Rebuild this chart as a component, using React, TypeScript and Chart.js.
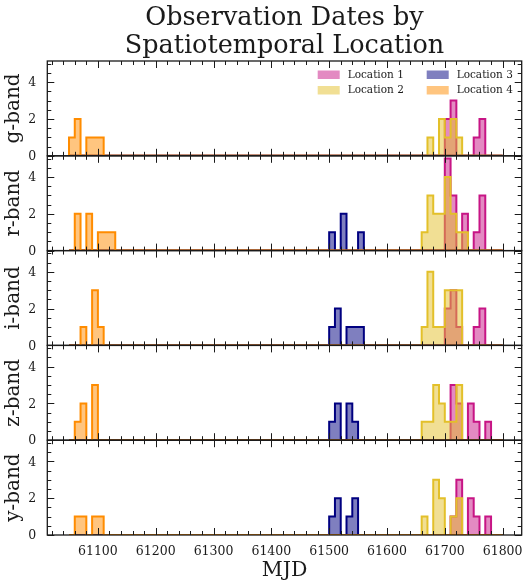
import React, { useEffect, useRef } from 'react';
import { Chart, registerables } from 'chart.js';

Chart.register(...registerables);

const TITLE_LINES = ['Observation Dates by', 'Spatiotemporal Location'];
const X_TITLE = 'MJD';
const BANDS = ['g-band', 'r-band', 'i-band', 'z-band', 'y-band'];
const BAND_IDS = ['yg', 'yr', 'yi', 'yz', 'yy'];
const LOCATIONS = ['Location 1', 'Location 2', 'Location 3', 'Location 4'];
const EDGE_COLORS = ['rgb(199,21,133)', 'rgb(227,192,42)', 'rgb(0,0,128)', 'rgb(255,140,0)'];
const FILL_COLORS = ['rgba(199,21,133,0.5)', 'rgba(227,192,42,0.5)', 'rgba(0,0,128,0.5)', 'rgba(255,140,0,0.5)'];

const BIN_START = 61050;
const BIN_WIDTH = 10;
const N_BINS = 75;

const X_MIN = 61012.5;
const X_MAX = 61833;
const X_TICKS = [61100, 61200, 61300, 61400, 61500, 61600, 61700, 61800];
const X_MINOR_STEP = 20;
const Y_MAX = 5.15;
const Y_TICKS = [0, 2, 4];
const Y_MINOR_STEP = 0.5;

// Non-empty bins, as [bin start (MJD), count]
const G_LOC1 = [[61700, 2], [61710, 3], [61750, 1], [61760, 2]];
const G_LOC2 = [[61670, 1], [61690, 2], [61700, 1], [61710, 2], [61720, 1]];
const G_LOC3: number[][] = [];
const G_LOC4 = [[61050, 1], [61060, 2], [61080, 1], [61090, 1], [61100, 1]];

const R_LOC1 = [[61700, 5], [61710, 3], [61730, 2], [61750, 1], [61760, 3]];
const R_LOC2 = [[61660, 1], [61670, 3], [61680, 2], [61690, 2], [61700, 4], [61710, 2], [61720, 1], [61730, 1]];
const R_LOC3 = [[61500, 1], [61520, 2], [61550, 1]];
const R_LOC4 = [[61060, 2], [61080, 2], [61100, 1], [61110, 1], [61120, 1]];

const I_LOC1 = [[61700, 2], [61710, 3], [61720, 1], [61750, 1], [61760, 2]];
const I_LOC2 = [[61660, 1], [61670, 4], [61680, 1], [61690, 1], [61700, 3], [61710, 3], [61720, 3]];
const I_LOC3 = [[61500, 1], [61510, 2], [61530, 1], [61540, 1], [61550, 1]];
const I_LOC4 = [[61070, 1], [61090, 3], [61100, 1]];

const Z_LOC1 = [[61710, 3], [61720, 2], [61740, 2], [61750, 1], [61770, 1]];
const Z_LOC2 = [[61660, 1], [61670, 1], [61680, 3], [61690, 2], [61700, 1], [61710, 1], [61720, 3]];
const Z_LOC3 = [[61500, 1], [61510, 2], [61530, 2], [61540, 1]];
const Z_LOC4 = [[61060, 1], [61070, 2], [61090, 3]];

const Y_LOC1 = [[61710, 1], [61720, 3], [61740, 2], [61750, 1], [61770, 1]];
const Y_LOC2 = [[61660, 1], [61680, 3], [61690, 2], [61710, 1], [61720, 2]];
const Y_LOC3 = [[61500, 1], [61510, 2], [61530, 1], [61540, 2]];
const Y_LOC4 = [[61060, 1], [61070, 1], [61090, 1], [61100, 1]];

const BAND_DATA = [
  [G_LOC1, G_LOC2, G_LOC3, G_LOC4],
  [R_LOC1, R_LOC2, R_LOC3, R_LOC4],
  [I_LOC1, I_LOC2, I_LOC3, I_LOC4],
  [Z_LOC1, Z_LOC2, Z_LOC3, Z_LOC4],
  [Y_LOC1, Y_LOC2, Y_LOC3, Y_LOC4],
];

const FONT = "'DejaVu Serif', serif";
const INK = '#1a1a1a';
const MAJOR_LEN = 7;
const MINOR_LEN = 4;

function histPoints(bins: number[][]) {
  const counts = new Array(N_BINS).fill(0);
  bins.forEach(([start, c]) => {
    counts[Math.round((start - BIN_START) / BIN_WIDTH)] = c;
  });
  const pts = [{ x: BIN_START, y: 0 }];
  counts.forEach((c, k) => pts.push({ x: BIN_START + k * BIN_WIDTH, y: c }));
  pts.push({ x: BIN_START + N_BINS * BIN_WIDTH, y: 0 });
  return pts;
}

const decorPlugin = {
  id: 'decor',
  afterDraw(chart: any) {
    const { ctx, chartArea } = chart;
    const xs = chart.scales.x;
    const left = chartArea.left;
    const right = chartArea.right;
    ctx.save();
    ctx.strokeStyle = INK;
    BAND_IDS.forEach((id) => {
      const ys = chart.scales[id];
      const top = ys.top;
      const bottom = ys.bottom;
      ctx.lineWidth = 1;
      ctx.beginPath();
      for (let v = Math.ceil(X_MIN / X_MINOR_STEP) * X_MINOR_STEP; v <= X_MAX; v += X_MINOR_STEP) {
        const px = Math.round(xs.getPixelForValue(v)) + 0.5;
        const len = X_TICKS.includes(v) ? MAJOR_LEN : MINOR_LEN;
        ctx.moveTo(px, bottom);
        ctx.lineTo(px, bottom - len);
        ctx.moveTo(px, top);
        ctx.lineTo(px, top + len);
      }
      for (let v = 0; v <= Y_MAX + 1e-9; v += Y_MINOR_STEP) {
        const py = Math.round(ys.getPixelForValue(v)) + 0.5;
        const len = Y_TICKS.includes(v) ? MAJOR_LEN : MINOR_LEN;
        ctx.moveTo(left, py);
        ctx.lineTo(left + len, py);
        ctx.moveTo(right, py);
        ctx.lineTo(right - len, py);
      }
      ctx.stroke();
      ctx.lineWidth = 1.3;
      ctx.strokeRect(left, top, right - left, bottom - top);
    });

    // legend inside the top panel (two columns)
    const yg = chart.scales.yg;
    ctx.font = `10.5px ${FONT}`;
    ctx.textBaseline = 'middle';
    ctx.textAlign = 'left';
    LOCATIONS.forEach((name, i) => {
      const col = Math.floor(i / 2);
      const row = i % 2;
      const px = right - 204 + col * 109;
      const cy = yg.top + 13.5 + row * 15.5;
      ctx.fillStyle = FILL_COLORS[i];
      ctx.fillRect(px, cy - 4, 22, 8.5);
      ctx.fillStyle = INK;
      ctx.fillText(name, px + 30, cy + 0.5);
    });
    ctx.restore();
  },
};

export default function App() {
  const ref = useRef<HTMLCanvasElement>(null);
  useEffect(() => {
    const canvas = ref.current;
    if (!canvas) return;
    Chart.defaults.font.family = FONT;
    Chart.defaults.color = INK;

    const datasets: any[] = [];
    BAND_DATA.forEach((locs, b) => {
      locs.forEach((bins, l) => {
        datasets.push({
          label: `${LOCATIONS[l]} ${BANDS[b]}`,
          data: histPoints(bins),
          xAxisID: 'x',
          yAxisID: BAND_IDS[b],
          stepped: 'before',
          fill: 'origin',
          borderColor: EDGE_COLORS[l],
          backgroundColor: FILL_COLORS[l],
          borderWidth: 2,
          borderJoinStyle: 'miter',
          pointRadius: 0,
          pointHoverRadius: 0,
          order: 4 - l,
        });
      });
    });

    const scales: any = {
      x: {
        type: 'linear',
        position: 'bottom',
        min: X_MIN,
        max: X_MAX,
        grid: { display: false, drawTicks: false },
        border: { display: false },
        ticks: {
          padding: 9,
          font: { size: 12.5 },
          color: INK,
          maxRotation: 0,
          autoSkip: false,
          callback: (v: any) => String(v),
        },
        afterBuildTicks: (s: any) => {
          s.ticks = X_TICKS.map((v) => ({ value: v }));
        },
        afterFit: (s: any) => {
          s.height = 46;
          s.paddingLeft = 0;
          s.paddingRight = 0;
        },
        title: {
          display: true,
          text: X_TITLE,
          font: { size: 20.5, lineHeight: 1 },
          padding: { top: 0, bottom: 0 },
          color: INK,
        },
      },
    };
    BAND_IDS.forEach((id, i) => {
      scales[id] = {
        type: 'linear',
        position: 'left',
        stack: 'bands',
        stackWeight: 1,
        weight: BAND_IDS.length - i,
        offset: false,
        min: 0,
        max: Y_MAX,
        grid: { display: false, drawTicks: false },
        border: { display: false },
        ticks: {
          padding: 11,
          font: { size: 12.5 },
          color: INK,
          autoSkip: false,
          labelOffset: 1,
        },
        afterBuildTicks: (s: any) => {
          s.ticks = Y_TICKS.map((v) => ({ value: v }));
        },
        afterFit: (s: any) => {
          s.width = 47.3;
          s.paddingTop = 0;
          s.paddingBottom = 0;
        },
        title: {
          display: true,
          text: BANDS[i],
          font: { size: 20, lineHeight: 1 },
          padding: { top: 4, bottom: 0 },
          color: INK,
        },
      };
    });

    const chart = new Chart(canvas, {
      type: 'line',
      data: { datasets },
      options: {
        responsive: false,
        animation: false,
        devicePixelRatio: 1,
        events: [],
        layout: { padding: { left: 0, right: 3.3, top: 0, bottom: 0 } },
        plugins: {
          legend: { display: false },
          tooltip: { enabled: false },
          title: {
            display: true,
            text: TITLE_LINES,
            fullSize: false,
            color: INK,
            font: { size: 25.5, weight: 'normal', lineHeight: 1.1 },
            padding: { top: 4, bottom: 0.9 },
          },
        },
        scales,
      } as any,
      plugins: [decorPlugin],
    });
    return () => chart.destroy();
  }, []);

  return (
    <div style={{ position: 'fixed', left: 0, top: 0, width: 525, height: 581, background: '#fff' }}>
      <canvas ref={ref} width={525} height={581} style={{ display: 'block', width: 525, height: 581 }} />
    </div>
  );
}
